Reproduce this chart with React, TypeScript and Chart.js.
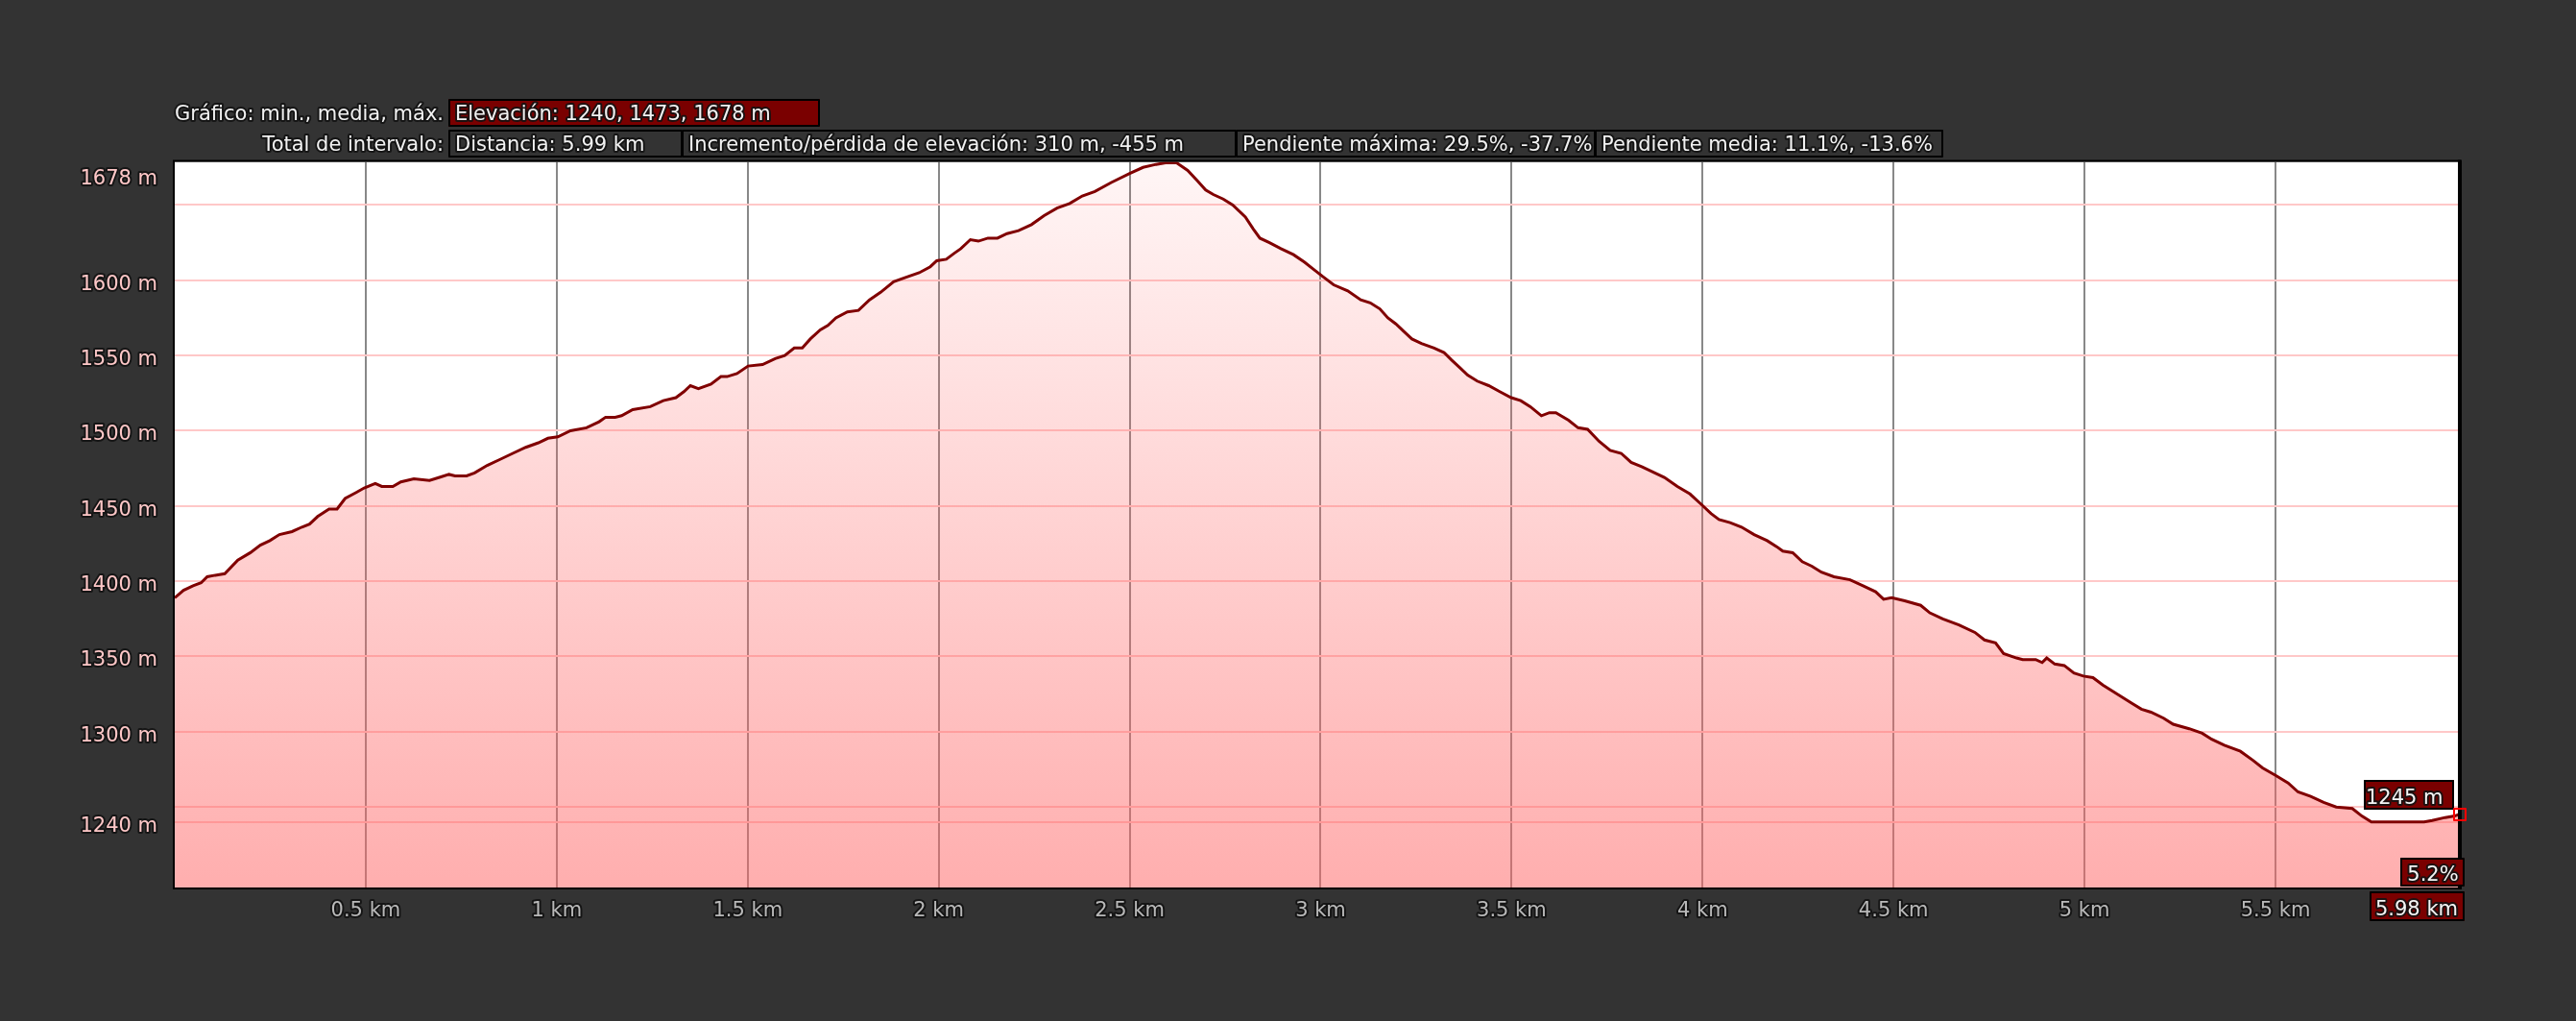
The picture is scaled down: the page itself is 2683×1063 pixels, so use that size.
import React, { useEffect, useRef } from 'react';
import { Chart, registerables } from 'chart.js';

Chart.register(...registerables);

// ---- data (distance in km, elevation in m) ----
const distanceKm = [
  0.0, 0.023, 0.048, 0.069, 0.085, 0.106, 0.131, 0.165, 0.198, 0.224, 0.249, 0.274, 0.307, 0.333, 0.353,
  0.374, 0.404, 0.425, 0.446, 0.475, 0.496, 0.525, 0.542, 0.571, 0.592, 0.626, 0.667, 0.693, 0.718, 0.734,
  0.764, 0.785, 0.818, 0.852, 0.885, 0.919, 0.952, 0.977, 1.003, 1.036, 1.078, 1.111, 1.128, 1.153, 1.17,
  1.199, 1.245, 1.279, 1.312, 1.333, 1.35, 1.371, 1.404, 1.43, 1.446, 1.472, 1.501, 1.539, 1.572, 1.597,
  1.622, 1.643, 1.664, 1.69, 1.71, 1.731, 1.761, 1.79, 1.819, 1.848, 1.882, 1.915, 1.949, 1.978, 1.995,
  2.02, 2.041, 2.058, 2.083, 2.104, 2.129, 2.154, 2.179, 2.209, 2.243, 2.276, 2.31, 2.343, 2.376, 2.409,
  2.452, 2.5, 2.535, 2.569, 2.594, 2.623, 2.652, 2.678, 2.699, 2.719, 2.745, 2.77, 2.803, 2.824, 2.841,
  2.866, 2.896, 2.929, 2.958, 2.983, 3.008, 3.034, 3.071, 3.105, 3.13, 3.155, 3.176, 3.197, 3.218, 3.239,
  3.264, 3.297, 3.323, 3.343, 3.364, 3.385, 3.41, 3.44, 3.469, 3.499, 3.524, 3.549, 3.578, 3.599, 3.616,
  3.649, 3.674, 3.699, 3.729, 3.758, 3.787, 3.813, 3.842, 3.875, 3.9, 3.934, 3.967, 3.997, 4.022, 4.043,
  4.072, 4.102, 4.135, 4.169, 4.194, 4.21, 4.236, 4.261, 4.286, 4.311, 4.344, 4.386, 4.42, 4.453, 4.474,
  4.495, 4.529, 4.571, 4.595, 4.629, 4.671, 4.713, 4.738, 4.767, 4.788, 4.822, 4.838, 4.872, 4.889, 4.901,
  4.922, 4.947, 4.972, 4.997, 5.022, 5.048, 5.073, 5.098, 5.123, 5.149, 5.174, 5.207, 5.232, 5.274, 5.308,
  5.333, 5.366, 5.408, 5.441, 5.466, 5.5, 5.533, 5.559, 5.592, 5.626, 5.659, 5.701, 5.726, 5.751, 5.827,
  5.889, 5.91, 5.944, 5.969, 5.98,
];

const elevationM = [
  1389, 1394, 1397, 1399, 1403, 1404, 1405, 1414, 1419, 1424, 1427, 1431, 1433, 1436, 1438,
  1443, 1448, 1448, 1455, 1459, 1462, 1465, 1463, 1463, 1466, 1468, 1467, 1469, 1471, 1470,
  1470, 1472, 1477, 1481, 1485, 1489, 1492, 1495, 1496, 1500, 1502, 1506, 1509, 1509, 1510,
  1514, 1516, 1520, 1522, 1526, 1530, 1528, 1531, 1536, 1536, 1538, 1543, 1544, 1548, 1550,
  1555, 1555, 1561, 1567, 1570, 1575, 1579, 1580, 1587, 1592, 1599, 1602, 1605, 1609, 1613,
  1614, 1618, 1621, 1627, 1626, 1628, 1628, 1631, 1633, 1637, 1643, 1648, 1651, 1656, 1659,
  1665, 1671, 1675, 1677, 1678, 1678, 1673, 1666, 1660, 1657, 1654, 1650, 1642, 1634, 1628,
  1625, 1621, 1617, 1612, 1607, 1602, 1597, 1593, 1587, 1585, 1581, 1575, 1571, 1566, 1561,
  1558, 1555, 1552, 1547, 1542, 1537, 1533, 1530, 1526, 1522, 1520, 1516, 1510, 1512, 1512,
  1507, 1502, 1501, 1493, 1487, 1485, 1479, 1476, 1472, 1469, 1463, 1458, 1451, 1445, 1441,
  1439, 1436, 1431, 1427, 1423, 1420, 1419, 1413, 1410, 1406, 1403, 1401, 1397, 1393, 1388,
  1389, 1387, 1384, 1379, 1375, 1371, 1366, 1361, 1359, 1352, 1349, 1348, 1348, 1346, 1349,
  1345, 1344, 1339, 1337, 1336, 1331, 1327, 1323, 1319, 1315, 1313, 1309, 1305, 1302, 1299,
  1295, 1291, 1287, 1281, 1276, 1271, 1266, 1260, 1257, 1253, 1250, 1249, 1244, 1240, 1240,
  1240, 1241, 1243, 1244, 1245,
];

const xTickValues = [0.5, 1, 1.5, 2, 2.5, 3, 3.5, 4, 4.5, 5, 5.5];
const xTickLabels = ['0.5 km', '1 km', '1.5 km', '2 km', '2.5 km', '3 km', '3.5 km', '4 km', '4.5 km', '5 km', '5.5 km'];
const yTickValues = [1240, 1250, 1300, 1350, 1400, 1450, 1500, 1550, 1600, 1650, 1678];
const yTickLabels = ['1240 m', '', '1300 m', '1350 m', '1400 m', '1450 m', '1500 m', '1550 m', '1600 m', '', '1678 m'];

const yMin = 1196.5;
const yMax = 1678.7;
const xMax = 5.98;

const headerRow1Label = 'Gráfico: min., media, máx.';
const headerRow1Values = ['Elevación: 1240, 1473, 1678 m'];
const headerRow2Label = 'Total de intervalo:';
const headerRow2Values = [
  'Distancia: 5.99 km',
  'Incremento/pérdida de elevación: 310 m, -455 m',
  'Pendiente máxima: 29.5%, -37.7%',
  'Pendiente media: 11.1%, -13.6%',
];

const cursorKm = 5.98;
const cursorElevation = 1245;
const cursorElevationLabel = '1245 m';
const cursorSlopeLabel = '5.2%';
const cursorDistanceLabel = '5.98 km';

// ---- layout ----
const W = 2683;
const H = 1063;
const FONT = '21px "DejaVu Sans", Verdana, sans-serif';
const BG = '#333333';
const DARK_RED = '#7a0000';

function outlined(ctx: CanvasRenderingContext2D, text: string, x: number, y: number, fill: string, align: CanvasTextAlign) {
  ctx.font = FONT;
  ctx.textAlign = align;
  ctx.textBaseline = 'alphabetic';
  ctx.lineJoin = 'round';
  ctx.lineWidth = 4;
  ctx.strokeStyle = 'rgba(18,18,18,0.9)';
  ctx.strokeText(text, x, y);
  ctx.fillStyle = fill;
  ctx.fillText(text, x, y);
}

function box(ctx: CanvasRenderingContext2D, x0: number, y0: number, x1: number, y1: number, fill: string) {
  ctx.fillStyle = fill;
  ctx.fillRect(x0, y0, x1 - x0, y1 - y0);
  ctx.strokeStyle = '#000000';
  ctx.lineWidth = 2;
  ctx.strokeRect(x0 + 1, y0 + 1, x1 - x0 - 2, y1 - y0 - 2);
}

const decorPlugin = {
  id: 'decor',
  beforeDraw(chart: any) {
    const { ctx, chartArea: a } = chart;
    ctx.save();
    ctx.fillStyle = BG;
    ctx.fillRect(0, 0, W, H);
    ctx.fillStyle = '#ffffff';
    ctx.fillRect(a.left, a.top, a.right - a.left, a.bottom - a.top);
    ctx.restore();
  },
  afterDraw(chart: any) {
    const { ctx, chartArea: a, scales } = chart;
    const xs = scales.x;
    const ys = scales.y;
    ctx.save();

    // plot frame
    ctx.strokeStyle = '#000000';
    ctx.lineWidth = 2;
    ctx.strokeRect(a.left - 1, a.top - 1, a.right - a.left + 2, a.bottom - a.top + 2);
    ctx.lineWidth = 4;
    ctx.beginPath();
    ctx.moveTo(a.right + 1, a.top - 2);
    ctx.lineTo(a.right + 1, a.bottom + 2);
    ctx.stroke();

    // y labels
    yTickValues.forEach((v, i) => {
      const label = yTickLabels[i];
      if (!label) return;
      const py = ys.getPixelForValue(v);
      const base = Math.max(py + 10, a.top + 23);
      outlined(ctx, label, 164, base, '#ffc8c8', 'right');
    });

    // x labels
    xTickValues.forEach((v, i) => {
      const px = xs.getPixelForValue(v);
      outlined(ctx, xTickLabels[i], px, 954, '#b9b9b9', 'center');
    });

    // header row 1
    outlined(ctx, headerRow1Label, 462, 125, '#f2f2f2', 'right');
    box(ctx, 467, 103, 854, 132, DARK_RED);
    outlined(ctx, headerRow1Values[0], 474, 125, '#f2f2f2', 'left');

    // header row 2
    outlined(ctx, headerRow2Label, 462, 157, '#f2f2f2', 'right');
    const edges = [467, 710, 1287, 1661, 2024];
    headerRow2Values.forEach((t, i) => {
      box(ctx, edges[i], 135, edges[i + 1] + (i < 3 ? 1 : 0), 164, BG);
    });
    headerRow2Values.forEach((t, i) => {
      outlined(ctx, t, edges[i] + 7, 157, '#f2f2f2', 'left');
    });

    // cursor annotations
    const cx = xs.getPixelForValue(cursorKm);
    const cy = ys.getPixelForValue(cursorElevation);
    box(ctx, cx - 99, cy - 36, cx - 5, cy - 5, DARK_RED);
    outlined(ctx, cursorElevationLabel, cx - 97, cy - 11, '#f5f5f5', 'left');

    box(ctx, cx - 61, a.bottom - 31, cx + 6, a.bottom - 1, DARK_RED);
    outlined(ctx, cursorSlopeLabel, cx - 27, a.bottom - 7, '#f5f5f5', 'center');

    box(ctx, cx - 93, a.bottom + 4, cx + 6, a.bottom + 35, DARK_RED);
    outlined(ctx, cursorDistanceLabel, cx - 44, a.bottom + 29, '#f5f5f5', 'center');

    ctx.strokeStyle = '#ff0000';
    ctx.lineWidth = 2;
    ctx.strokeRect(cx - 5, cy - 6, 12, 12);

    ctx.restore();
  },
};

export default function App() {
  const ref = useRef<HTMLCanvasElement>(null);

  useEffect(() => {
    document.body.style.margin = '0';
    document.body.style.background = BG;
    const canvas = ref.current;
    if (!canvas) return;
    const points = distanceKm.map((x, i) => ({ x, y: elevationM[i] }));
    const chart = new Chart(canvas, {
      type: 'line',
      data: {
        datasets: [
          {
            data: points,
            borderColor: '#800000',
            borderWidth: 3,
            pointRadius: 0,
            tension: 0,
            fill: 'start',
            backgroundColor: (c: any) => {
              const ch = c.chart;
              const area = ch.chartArea;
              if (!area) return 'rgba(255,100,100,0.3)';
              const g = ch.ctx.createLinearGradient(0, area.top, 0, area.bottom);
              g.addColorStop(0, 'rgba(255,100,100,0.06)');
              g.addColorStop(1, 'rgba(255,100,100,0.52)');
              return g;
            },
          },
        ],
      },
      options: {
        responsive: false,
        maintainAspectRatio: false,
        animation: false,
        devicePixelRatio: 1,
        events: [],
        layout: { padding: { left: 182, top: 168.5, right: 122, bottom: 139 } },
        plugins: { legend: { display: false }, tooltip: { enabled: false } },
        scales: {
          x: {
            type: 'linear',
            min: 0,
            max: xMax,
            afterBuildTicks: (s: any) => {
              s.ticks = xTickValues.map((v) => ({ value: v }));
            },
            afterFit: (s: any) => {
              s.height = 0;
            },
            ticks: { display: false },
            grid: { color: '#888888', lineWidth: 2, drawTicks: false },
            border: { display: false },
          },
          y: {
            type: 'linear',
            min: yMin,
            max: yMax,
            afterBuildTicks: (s: any) => {
              s.ticks = yTickValues.map((v) => ({ value: v }));
            },
            afterFit: (s: any) => {
              s.width = 0;
            },
            ticks: { display: false },
            grid: {
              color: (c: any) => (c.tick && c.tick.value === 1678 ? 'rgba(0,0,0,0)' : '#ffc8c8'),
              lineWidth: 2,
              drawTicks: false,
            },
            border: { display: false },
          },
        },
      } as any,
      plugins: [decorPlugin],
    });
    return () => chart.destroy();
  }, []);

  return (
    <div style={{ width: W, height: H, background: BG }}>
      <canvas ref={ref} width={W} height={H} style={{ display: 'block', width: W, height: H }} />
    </div>
  );
}
